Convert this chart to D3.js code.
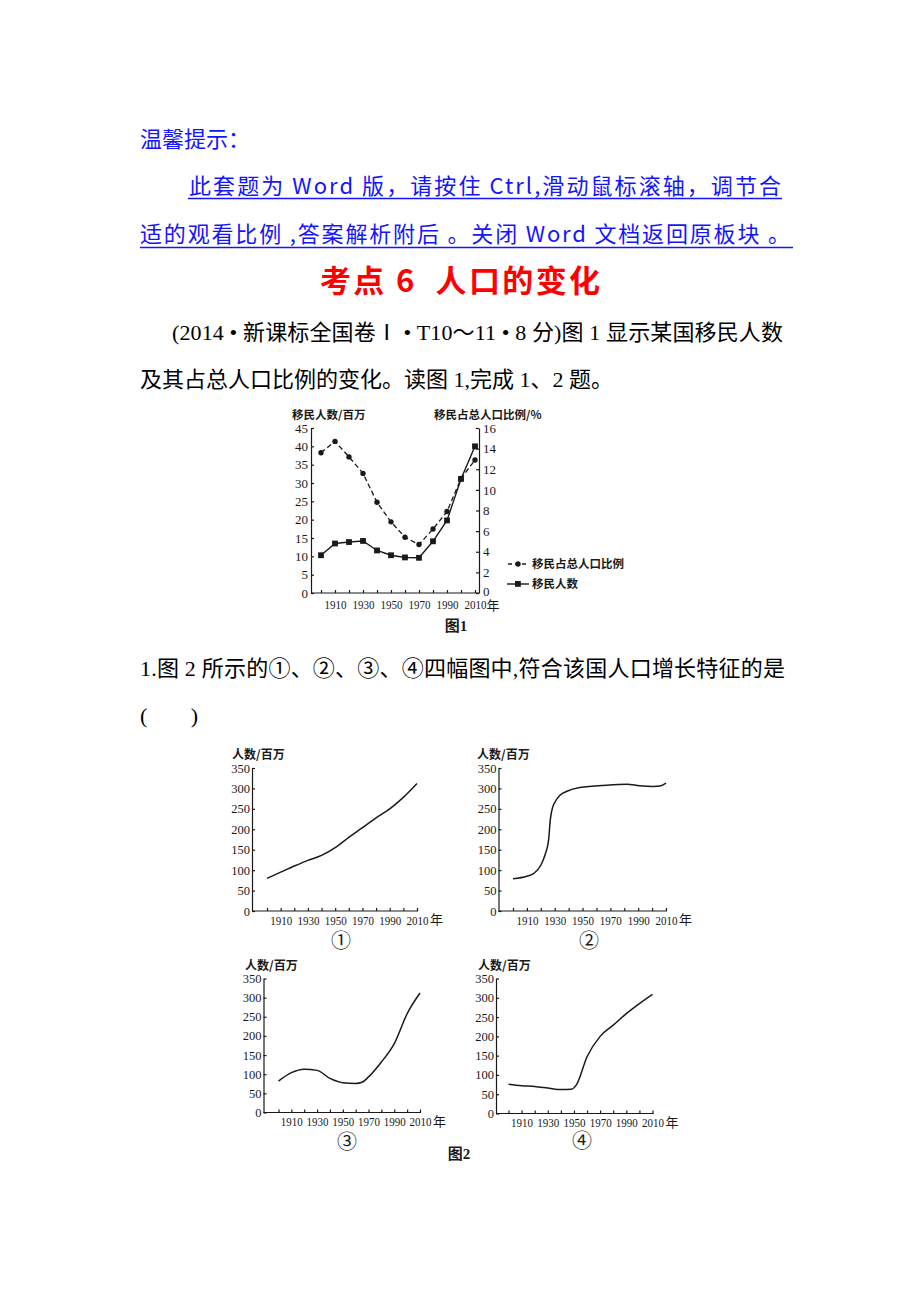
<!DOCTYPE html>
<html>
<head>
<meta charset="utf-8">
<script src="https://cdn.jsdelivr.net/npm/d3@7/dist/d3.min.js"></script>
<style>
  body { margin: 0; background: #fff; }
  svg { display: block; }
  svg text { white-space: pre; }
</style>
</head>
<body>
<div id="page"></div>
<script>
// ---- data ----
const censusYears = [1900, 1910, 1920, 1930, 1940, 1950, 1960, 1970, 1980, 1990, 2000, 2010];
const immigrants = [10.3, 13.5, 13.9, 14.2, 11.6, 10.3, 9.7, 9.6, 14.1, 19.8, 31.1, 40.0];   // 百万
const immigrantShare = [13.6, 14.7, 13.2, 11.6, 8.8, 6.9, 5.4, 4.7, 6.2, 7.9, 11.1, 12.9];  // %

const leftTicks = [0, 5, 10, 15, 20, 25, 30, 35, 40, 45];
const rightTicks = [0, 2, 4, 6, 8, 10, 12, 14, 16];
const decadeTicks = d3.range(1900, 2011, 10);
const yearLabels = [1910, 1930, 1950, 1970, 1990, 2010];
const popTicks = [0, 50, 100, 150, 200, 250, 300, 350];

const p1Years = [1900, 1910, 1920, 1930, 1940, 1950, 1960, 1970, 1980, 1990, 2000, 2010];
const p1Pop = [80, 95, 110, 124, 136, 155, 180, 204, 228, 250, 278, 312];
const p2Years = [1900, 1910, 1915, 1920, 1923, 1925.6, 1926.8, 1928.7, 1930.4, 1934, 1938.8, 1948, 1967.5, 1982, 1991, 2001, 2005.7, 2010];
const p2Pop = [79, 85, 92, 112, 137, 174, 223, 256, 268, 284, 293, 302, 308, 310, 306.5, 305, 306, 313];
const p3Years = [1900, 1910, 1920, 1930, 1940, 1950, 1960, 1965, 1970, 1980, 1990, 2000, 2010];
const p3Pop = [82, 104, 113, 110, 89, 78, 76, 79, 93, 132, 180, 258, 312];
const p4Years = [1900, 1910, 1920, 1930, 1940, 1948, 1952, 1960, 1970, 1980, 1990, 2000, 2010];
const p4Pop = [76, 72, 70, 66, 62, 63, 75, 147, 200, 229, 259, 285, 309];

const W = 920, H = 1302;
const sansCJK = '"Noto Sans CJK SC", "Noto Sans", sans-serif';
const serifMix = '"Liberation Serif", "Noto Sans CJK SC", serif';
const blue = '#1414ff';
const ink = '#1a1a1a';

const svg = d3.select('#page').append('svg')
    .attr('width', W)
    .attr('height', H)
    .style('background', '#fff');

// ---- header text ----
function line(txt, x, y, opts) {
    const t = svg.append('text')
        .attr('x', x).attr('y', y)
        .attr('font-family', opts.font || serifMix)
        .attr('font-size', opts.size || 22)
        .attr('fill', opts.color || '#000')
        .attr('font-weight', opts.weight || 400)
        .attr('text-anchor', opts.anchor || 'start')
        .text(txt);
    if (opts.len) t.attr('textLength', opts.len).attr('lengthAdjust', 'spacing');
    return t;
}

line('温馨提示：', 140, 147, { font: sansCJK, size: 22, color: blue });
line('此套题为 Word 版，请按住 Ctrl,滑动鼠标滚轴，调节合', 189, 194, { font: sansCJK, size: 22, color: blue, len: 592 });
line('适的观看比例 ,答案解析附后 。关闭 Word 文档返回原板块 。', 140, 242, { font: sansCJK, size: 22, color: blue, len: 650 });
svg.append('line').attr('x1', 188).attr('x2', 782).attr('y1', 198.5).attr('y2', 198.5).attr('stroke', blue).attr('stroke-width', 1.5);
svg.append('line').attr('x1', 140).attr('x2', 793).attr('y1', 247.5).attr('y2', 247.5).attr('stroke', blue).attr('stroke-width', 1.5);

line('考点 6  人口的变化', 320, 292, { font: sansCJK, size: 31, color: '#ff0000', weight: 700, len: 280 });

line('(2014 • 新课标全国卷Ⅰ • T10～11 • 8 分)图 1 显示某国移民人数', 172, 340, { len: 611 });
line('及其占总人口比例的变化。读图 1,完成 1、2 题。', 140, 387, {});
line('1.图 2 所示的①、②、③、④四幅图中,符合该国人口增长特征的是', 140, 676, { len: 645 });
line('(       )', 140, 723, { len: 58 });

// ---- figure 1 ----
const f1 = svg.append('g').attr('class', 'fig1');
const x1 = d3.scaleLinear().domain([1900, 2010]).range([321, 475]);
const yL = d3.scaleLinear().domain([0, 45]).range([593, 428]);
const yR = d3.scaleLinear().domain([0, 16]).range([593, 428]);
const axisX0 = 311, axisX1 = 479;

function styleAxis(g, size) {
    g.selectAll('path, line').attr('stroke', ink).attr('stroke-width', 1.2);
    g.selectAll('text').attr('font-family', serifMix).attr('font-size', size).attr('fill', ink);
}
function squeezeYears(g) {
    g.selectAll('.tick text').filter(d => yearLabels.includes(d))
        .attr('textLength', 22).attr('lengthAdjust', 'spacingAndGlyphs');
}

f1.append('g').attr('transform', `translate(${axisX0},0)`)
    .call(d3.axisLeft(yL).tickValues(leftTicks).tickSize(-3).tickSizeOuter(0).tickPadding(3))
    .call(g => styleAxis(g, 13));
f1.append('g').attr('transform', `translate(${axisX1},0)`)
    .call(d3.axisRight(yR).tickValues(rightTicks).tickSize(-3).tickSizeOuter(0).tickPadding(4))
    .call(g => styleAxis(g, 13))
    .call(g => g.selectAll('.tick').filter(d => d === 0).select('text').attr('dy', '0.2em'));
f1.append('line').attr('x1', axisX0).attr('x2', axisX1).attr('y1', 593).attr('y2', 593)
    .attr('stroke', ink).attr('stroke-width', 1.2);
f1.append('g').attr('transform', 'translate(0,593)')
    .call(d3.axisBottom(x1).tickValues(decadeTicks).tickSize(-3).tickSizeOuter(0).tickPadding(6)
        .tickFormat(d => yearLabels.includes(d) ? d : ''))
    .call(g => g.select('.domain').remove())
    .call(g => styleAxis(g, 13.5))
    .call(squeezeYears);
f1.append('text').attr('x', x1(2010) + 11.5).attr('y', 610)
    .attr('font-family', sansCJK).attr('font-size', 13).attr('fill', ink).text('年');

f1.append('text').attr('x', 292).attr('y', 419).attr('font-family', sansCJK).attr('font-size', 11.5)
    .attr('font-weight', 700).attr('fill', ink).text('移民人数/百万');
f1.append('text').attr('x', 434).attr('y', 419).attr('font-family', sansCJK).attr('font-size', 11.5)
    .attr('font-weight', 700).attr('fill', ink).text('移民占总人口比例/%');

const shareLine = d3.line().x((d, i) => x1(censusYears[i])).y(d => yR(d));
const immLine = d3.line().x((d, i) => x1(censusYears[i])).y(d => yL(d));

f1.append('path').datum(immigrantShare).attr('d', shareLine)
    .attr('fill', 'none').attr('stroke', ink).attr('stroke-width', 1.3).attr('stroke-dasharray', '5,3');
f1.append('path').datum(immigrants).attr('d', immLine)
    .attr('fill', 'none').attr('stroke', ink).attr('stroke-width', 1.4);

f1.selectAll('circle.share').data(immigrantShare).join('circle').attr('class', 'share')
    .attr('cx', (d, i) => x1(censusYears[i])).attr('cy', d => yR(d)).attr('r', 2.7).attr('fill', ink);
f1.selectAll('rect.imm').data(immigrants).join('rect').attr('class', 'imm')
    .attr('x', (d, i) => x1(censusYears[i]) - 2.9).attr('y', d => yL(d) - 2.9)
    .attr('width', 5.8).attr('height', 5.8).attr('fill', ink);

// legend
const lg = f1.append('g');
lg.append('line').attr('x1', 508).attr('x2', 529).attr('y1', 564).attr('y2', 564)
    .attr('stroke', ink).attr('stroke-width', 1.3).attr('stroke-dasharray', '4,3');
lg.append('circle').attr('cx', 518).attr('cy', 564).attr('r', 2.7).attr('fill', ink);
lg.append('line').attr('x1', 507).attr('x2', 529).attr('y1', 584).attr('y2', 584)
    .attr('stroke', ink).attr('stroke-width', 1.4);
lg.append('rect').attr('x', 515).attr('y', 581).attr('width', 5.8).attr('height', 5.8).attr('fill', ink);
lg.append('text').attr('x', 532).attr('y', 568).attr('font-family', sansCJK).attr('font-size', 11.5)
    .attr('font-weight', 700).attr('fill', ink).text('移民占总人口比例');
lg.append('text').attr('x', 532).attr('y', 588).attr('font-family', sansCJK).attr('font-size', 11.5)
    .attr('font-weight', 700).attr('fill', ink).text('移民人数');

f1.append('text').attr('x', 456).attr('y', 631).attr('text-anchor', 'middle')
    .attr('font-family', serifMix).attr('font-size', 15).attr('font-weight', 700).attr('fill', ink).text('图1');

// ---- figure 2 ----
const panels = [
    { years: p1Years, pop: p1Pop, ax: 252, y0: 911, y350: 768, xa: 267, xb: 417, mark: '①', mx: 341, my: 948, lx: 232, ly: 759 },
    { years: p2Years, pop: p2Pop, ax: 498.5, y0: 911, y350: 768, xa: 513, xb: 666, mark: '②', mx: 589, my: 948, lx: 477, ly: 759 },
    { years: p3Years, pop: p3Pop, ax: 263.5, y0: 1112.5, y350: 978.5, xa: 278.5, xb: 420, mark: '③', mx: 347, my: 1149, lx: 245, ly: 970 },
    { years: p4Years, pop: p4Pop, ax: 496, y0: 1113.5, y350: 978.5, xa: 508.5, xb: 652.5, mark: '④', mx: 582, my: 1148, lx: 478, ly: 970 }
];

panels.forEach(p => {
    const g = svg.append('g');
    const x = d3.scaleLinear().domain([1900, 2010]).range([p.xa, p.xb]);
    const y = d3.scaleLinear().domain([0, 350]).range([p.y0, p.y350]);

    g.append('g').attr('transform', `translate(${p.ax},0)`)
        .call(d3.axisLeft(y).tickValues(popTicks).tickSize(-3).tickSizeOuter(0).tickPadding(2))
        .call(a => styleAxis(a, 12.5));
    g.append('line').attr('x1', p.ax).attr('x2', p.xb + 1).attr('y1', p.y0).attr('y2', p.y0)
        .attr('stroke', ink).attr('stroke-width', 1.2);
    g.append('g').attr('transform', `translate(0,${p.y0})`)
        .call(d3.axisBottom(x).tickValues(decadeTicks).tickSize(-3).tickSizeOuter(0).tickPadding(4)
            .tickFormat(d => yearLabels.includes(d) ? d : ''))
        .call(a => a.select('.domain').remove())
        .call(a => styleAxis(a, 13.5))
        .call(squeezeYears);
    g.append('text').attr('x', p.xb + 13).attr('y', p.y0 + 13)
        .attr('font-family', sansCJK).attr('font-size', 13).attr('fill', ink).text('年');

    g.append('text').attr('x', p.lx).attr('y', p.ly).attr('font-family', sansCJK)
        .attr('font-size', 12).attr('font-weight', 700).attr('fill', ink).text('人数/百万');

    const curve = d3.line().curve(d3.curveMonotoneX)
        .x((d, i) => x(p.years[i])).y(d => y(d));
    g.append('path').datum(p.pop).attr('d', curve)
        .attr('fill', 'none').attr('stroke', ink).attr('stroke-width', 1.5);

    g.append('text').attr('x', p.mx).attr('y', p.my).attr('text-anchor', 'middle')
        .attr('font-family', sansCJK).attr('font-size', 20).attr('fill', ink).text(p.mark);
});

svg.append('text').attr('x', 459).attr('y', 1159).attr('text-anchor', 'middle')
    .attr('font-family', serifMix).attr('font-size', 15).attr('font-weight', 700).attr('fill', ink).text('图2');
</script>
</body>
</html>
